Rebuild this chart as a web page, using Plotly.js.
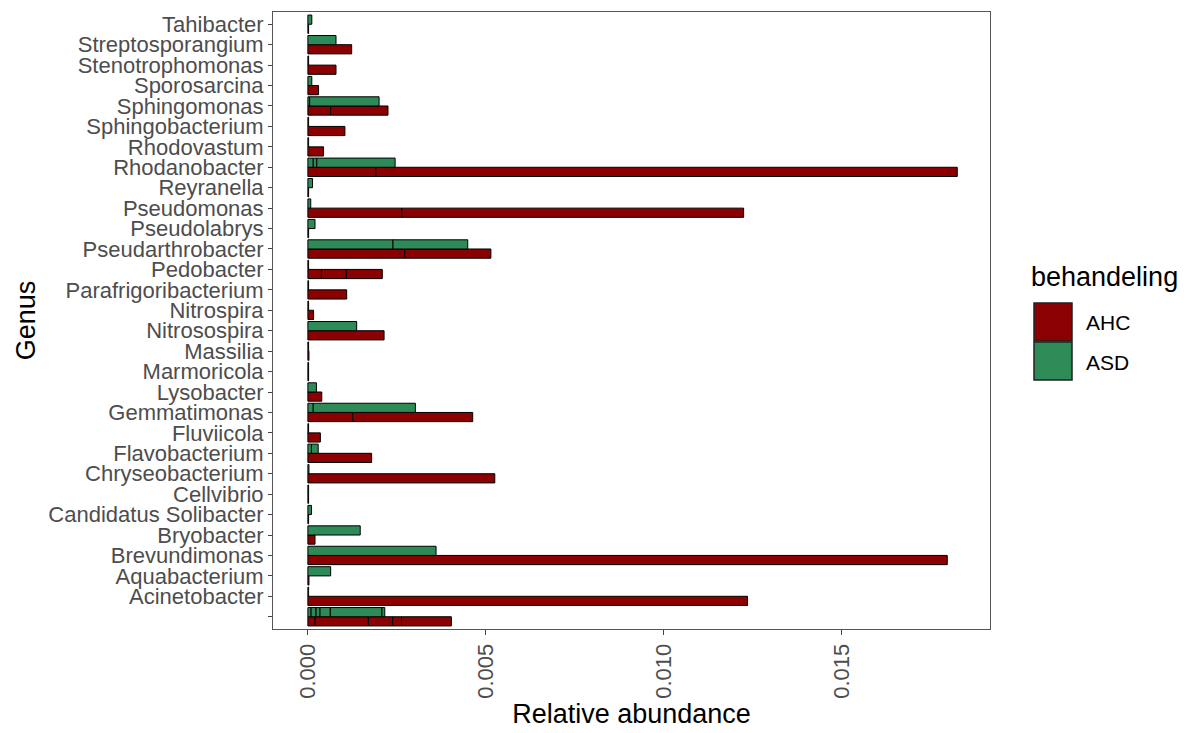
<!DOCTYPE html>
<html>
<head>
<meta charset="utf-8">
<script src="https://cdn.plot.ly/plotly-3.0.1.min.js"></script>
<style>html,body{margin:0;padding:0;background:#fff;}#chart{width:1189px;height:733px;}</style>
</head>
<body>
<div id="chart"></div>
<script>
// Genus categories, bottom (index 0) to top
const genera = ["", "Acinetobacter", "Aquabacterium", "Brevundimonas", "Bryobacter",
  "Candidatus Solibacter", "Cellvibrio", "Chryseobacterium", "Flavobacterium", "Fluviicola",
  "Gemmatimonas", "Lysobacter", "Marmoricola", "Massilia", "Nitrosospira", "Nitrospira",
  "Parafrigoribacterium", "Pedobacter", "Pseudarthrobacter", "Pseudolabrys", "Pseudomonas",
  "Reyranella", "Rhodanobacter", "Rhodovastum", "Sphingobacterium", "Sphingomonas",
  "Sporosarcina", "Stenotrophomonas", "Streptosporangium", "Tahibacter"];

// Stacked segment values (relative abundance) per genus, same order as genera
const ahcValues = [
  [0.0002, 0.0015, 0.00068, 0.00025, 0.0014],
  [0.01235],
  [0.00003],
  [0.01796],
  [0.0002],
  [0.00002],
  [0.00002],
  [0.00525],
  [0.00179],
  [0.00035],
  [0.00126, 0.00337],
  [0.00039],
  [0.00002],
  [0.00003],
  [0.00214],
  [0.00016],
  [0.00109],
  [0.00038, 0.0007, 0.00101],
  [0.00272, 0.00242],
  [0.00002],
  [0.00264, 0.0096],
  [0.00002],
  [0.00191, 0.01633],
  [0.00044],
  [0.00104],
  [0.00064, 0.00161],
  [0.0003],
  [0.00079],
  [0.00123],
  [0.00002]
];
const asdValues = [
  [0.00009, 0.00014, 0.00011, 0.00029, 0.00145, 0.00008],
  [0.00002],
  [0.00064],
  [0.0036],
  [0.00147],
  [0.0001],
  [0.00002],
  [0.00003],
  [0.0001, 0.00019],
  [0.00002],
  [0.00015, 0.00287],
  [0.00024],
  [0.00002],
  [0.00002],
  [0.00137],
  [0.00002],
  [0.00002],
  [0.00002],
  [0.00239, 0.0021],
  [0.0002],
  [0.00008],
  [0.00013],
  [0.00015, 0.0001, 0.0022],
  [0.00002],
  [0.00002],
  [0.00005, 0.00195],
  [0.00011],
  [0.00002],
  [0.00079],
  [0.00011]
];
const treatments = ["AHC", "ASD"];
const treatmentColors = ["#8B0000", "#2E8B57"];
const xTickVals = [0, 0.005, 0.010, 0.015];
const xTickText = ["0.000", "0.005", "0.010", "0.015"];

function buildTrace(values, name, color, offset) {
  const ys = [], xs = [], bases = [];
  values.forEach((segs, gi) => {
    let cum = 0;
    segs.forEach(v => { ys.push(gi); xs.push(v); bases.push(cum); cum += v; });
  });
  return {
    type: "bar", orientation: "h", name: name,
    y: ys, x: xs, base: bases,
    width: 0.45, offset: offset,
    marker: {color: color, line: {color: "#000000", width: 1}},
    showlegend: false, hoverinfo: "x+name"
  };
}

const data = [
  buildTrace(ahcValues, treatments[0], treatmentColors[0], -0.45),
  buildTrace(asdValues, treatments[1], treatmentColors[1], 0)
];

// plot area in pixels: x 273..990, y 12..629
const L = 273, R = 990, T = 12, B = 629;
const px = x => (x - L) / (R - L);
const py = y => (B - y) / (B - T);
const font = "Liberation Sans, Arial, sans-serif";

const shapes = [], annotations = [];
treatments.forEach((t, i) => {
  const top = 303 + i * 39;
  shapes.push({type: "rect", xref: "paper", yref: "paper",
    x0: px(1034), x1: px(1072), y0: py(top + 38), y1: py(top),
    fillcolor: treatmentColors[i], line: {color: "#222", width: 1.5}});
  annotations.push({xref: "paper", yref: "paper", x: px(1084), y: py(top + 20),
    xanchor: "left", yanchor: "middle", text: t, showarrow: false,
    font: {family: font, size: 21, color: "#000"}});
});
annotations.push({xref: "paper", yref: "paper", x: px(1029), y: py(277),
  xanchor: "left", yanchor: "middle", text: "behandeling", showarrow: false,
  font: {family: font, size: 27, color: "#000"}});

const layout = {
  width: 1189, height: 733,
  margin: {l: L, r: 1189 - R, t: T, b: 733 - B},
  paper_bgcolor: "#fff", plot_bgcolor: "#fff",
  barmode: "overlay",
  showlegend: false,
  font: {family: font},
  xaxis: {
    range: [-0.00098, 0.01916],
    tickvals: xTickVals, ticktext: xTickText, tickangle: -90,
    ticks: "outside", ticklen: 5, tickcolor: "#444", tickwidth: 1,
    tickfont: {family: font, size: 22, color: "#4d4d4d"},
    showgrid: false, zeroline: false,
    showline: true, mirror: true, linecolor: "#555", linewidth: 1,
    title: {text: "Relative abundance", font: {family: font, size: 27, color: "#000"}, standoff: 4}
  },
  yaxis: {
    range: [-0.6, genera.length - 0.4],
    tickvals: genera.map((g, i) => i), ticktext: genera,
    ticks: "outside", ticklen: 4, tickcolor: "#444", tickwidth: 1,
    tickfont: {family: font, size: 22, color: "#4d4d4d"},
    showgrid: false, zeroline: false,
    showline: true, mirror: true, linecolor: "#555", linewidth: 1,
    title: {text: "Genus", font: {family: font, size: 27, color: "#000"}, standoff: 4}
  },
  shapes: shapes,
  annotations: annotations
};

Plotly.newPlot("chart", data, layout, {displayModeBar: false, staticPlot: true});
</script>
</body>
</html>
